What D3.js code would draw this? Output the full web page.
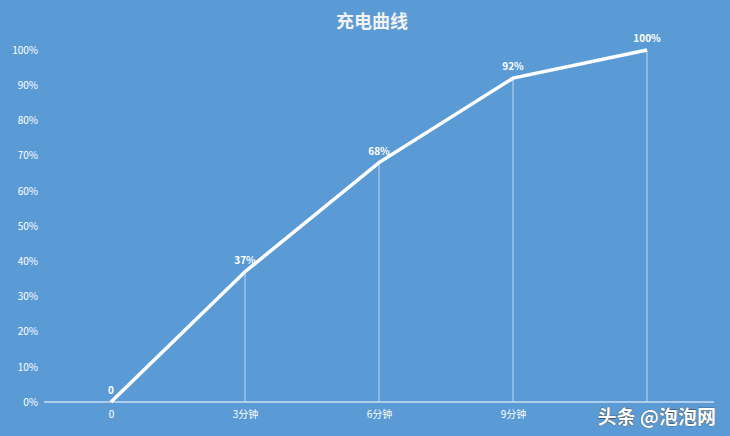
<!DOCTYPE html>
<html><head><meta charset="utf-8">
<script src="https://cdn.jsdelivr.net/npm/d3@7/dist/d3.min.js"></script>
<style>html,body{margin:0;padding:0;background:#5b9bd5;}</style>
</head><body>
<svg id="c" width="730" height="436"></svg>
<script>
const categories = ["0","3分钟","6分钟","9分钟","12分钟"];
const values = [0,37,68,92,100];
const yTicks = [0,10,20,30,40,50,60,70,80,90,100];
const title = "充电曲线";

const svg = d3.select("#c");
const font = "'Noto Sans CJK SC','Microsoft YaHei',sans-serif";
svg.append("rect").attr("width",730).attr("height",436).attr("fill","#5b9bd5");
const x = d3.scalePoint().domain(categories).range([44,714]).padding(0.5);
const y = d3.scaleLinear().domain([0,100]).range([402,50]);

svg.append("text").attr("x",372).attr("y",28).attr("text-anchor","middle")
  .attr("fill","#f2f2f2").attr("font-family","'Noto Sans CJK SC',serif").attr("font-weight","bold")
  .attr("font-size",18).text(title);

const ya = svg.append("g").attr("transform","translate(40,0)")
  .call(d3.axisLeft(y).tickValues(yTicks).tickFormat(d=>d+"%").tickSize(0));
ya.select(".domain").remove();
ya.selectAll("text").attr("fill","#ffffff").attr("font-family",font).attr("font-size",10).attr("x",-2);

const xa = svg.append("g").attr("transform","translate(0,402)")
  .call(d3.axisBottom(x).tickSize(0).tickFormat((d,i)=>i===categories.length-1?"":d));
xa.select(".domain").attr("stroke","#ffffff").attr("stroke-width",1.2).attr("d","M44,0H714");
xa.selectAll("text").attr("fill","#ffffff").attr("font-family",font).attr("font-size",10).attr("dy","1.3em");

svg.selectAll(".drop").data(values).enter().append("line")
  .attr("x1",(d,i)=>x(categories[i])).attr("x2",(d,i)=>x(categories[i]))
  .attr("y1",d=>y(d)).attr("y2",y(0)).attr("stroke","#dbe8f6").attr("stroke-width",0.8);

svg.append("path").datum(values)
  .attr("d",d3.line().x((d,i)=>x(categories[i])).y(d=>y(d)))
  .attr("fill","none").attr("stroke","#ffffff").attr("stroke-width",3.5);

svg.selectAll(".lbl").data(values).enter().append("text")
  .attr("x",(d,i)=>x(categories[i])).attr("y",d=>y(d)-8).attr("text-anchor","middle")
  .attr("fill","#ffffff").attr("font-family",font).attr("font-weight","bold").attr("font-size",10)
  .text(d=>d===0?"0":d+"%");

svg.append("text").attr("x",716).attr("y",424).attr("text-anchor","end")
  .attr("fill","#ffffff").attr("stroke","#333").attr("stroke-width",0.6).attr("paint-order","stroke")
  .attr("font-family",font).attr("font-weight","bold").attr("font-size",19).text("头条 @泡泡网");
</script>
</body></html>
